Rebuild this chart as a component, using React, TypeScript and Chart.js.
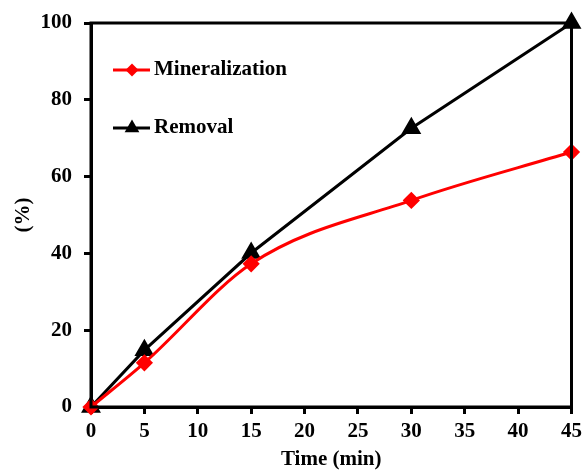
import React, { useEffect, useRef } from "react";
import { Chart, registerables } from "chart.js";

Chart.register(...registerables);

const timeMin = [0, 5, 15, 30, 45];
const mineralization = [0, 11.5, 37.3, 53.8, 66.4];
const removal = [0, 14.8, 40.1, 72.6, 100];
const xTicks = [0, 5, 10, 15, 20, 25, 30, 35, 40, 45];
const yTicks = [0, 20, 40, 60, 80, 100];
const seriesNames = ["Mineralization", "Removal"];

const FONT = "'Liberation Serif', 'Times New Roman', serif";

function drawMarker(ctx: CanvasRenderingContext2D, style: string, x: number, y: number, r: number) {
  ctx.beginPath();
  if (style === "rectRot") {
    ctx.moveTo(x, y - r);
    ctx.lineTo(x + r, y);
    ctx.lineTo(x, y + r);
    ctx.lineTo(x - r, y);
  } else {
    ctx.moveTo(x, y - r);
    ctx.lineTo(x + r * 0.866, y + r * 0.5);
    ctx.lineTo(x - r * 0.866, y + r * 0.5);
  }
  ctx.closePath();
  ctx.fill();
}

const framePlugin = {
  id: "frameLegend",
  afterDraw(chart: any) {
    const { ctx, chartArea } = chart;
    ctx.save();
    ctx.strokeStyle = "#000";
    ctx.lineWidth = 3;
    ctx.strokeRect(chartArea.left, chartArea.top, chartArea.right - chartArea.left, chartArea.bottom - chartArea.top);
    const items = [
      { label: seriesNames[0], color: "#ff0000", style: "rectRot", r: 6.5, y: 70 },
      { label: seriesNames[1], color: "#000000", style: "triangle", r: 8.5, y: 128 },
    ];
    items.forEach((it) => {
      const x0 = chartArea.left + 22;
      const x1 = x0 + 37;
      ctx.strokeStyle = it.color;
      ctx.lineWidth = 3;
      ctx.beginPath();
      ctx.moveTo(x0, it.y);
      ctx.lineTo(x1, it.y);
      ctx.stroke();
      ctx.fillStyle = it.color;
      drawMarker(ctx, it.style, 132, it.y, it.r);
      ctx.fillStyle = "#000";
      ctx.font = `bold 21px ${FONT}`;
      ctx.textBaseline = "middle";
      ctx.textAlign = "left";
      ctx.fillText(it.label, 154, it.y);
    });
    ctx.restore();
  },
};

export default function App() {
  const ref = useRef<HTMLCanvasElement>(null);
  useEffect(() => {
    document.body.style.margin = "0";
    const chart = new Chart(ref.current!, {
      type: "line",
      data: {
        datasets: [
          {
            label: seriesNames[0],
            data: timeMin.map((t, i) => ({ x: t, y: mineralization[i] })),
            borderColor: "#ff0000",
            backgroundColor: "#ff0000",
            borderWidth: 3,
            pointStyle: "rectRot",
            pointRadius: 6.5,
            cubicInterpolationMode: "monotone",
            clip: false as any,
          },
          {
            label: seriesNames[1],
            data: timeMin.map((t, i) => ({ x: t, y: removal[i] })),
            borderColor: "#000000",
            backgroundColor: "#000000",
            borderWidth: 3,
            pointStyle: "triangle",
            pointRadius: 8.5,
            tension: 0,
            clip: false as any,
          },
        ],
      },
      options: {
        animation: false,
        responsive: false,
        layout: { padding: { top: 23, right: 11, left: 0, bottom: 0 } },
        plugins: { legend: { display: false }, tooltip: { enabled: false } },
        scales: {
          x: {
            type: "linear",
            min: 0,
            max: 45,
            afterBuildTicks: (s: any) => {
              s.ticks = xTicks.map((v) => ({ value: v }));
            },
            afterFit: (s: any) => {
              s.height = 65;
              s.paddingLeft = 0;
              s.paddingRight = 0;
            },
            grid: { drawOnChartArea: false, drawTicks: true, tickLength: 7, color: "#000", lineWidth: 3 },
            border: { display: true, color: "#000", width: 3 },
            ticks: { color: "#000", font: { family: FONT, size: 21, weight: "bold" }, padding: 5, maxRotation: 0 },
            title: { display: true, text: "Time (min)", color: "#000", font: { family: FONT, size: 21, weight: "bold" }, padding: { top: 0, bottom: 0 } },
          },
          y: {
            min: 0,
            max: 100,
            afterBuildTicks: (s: any) => {
              s.ticks = yTicks.map((v) => ({ value: v }));
            },
            afterFit: (s: any) => {
              s.width = 91;
              s.paddingTop = 0;
              s.paddingBottom = 0;
            },
            grid: { drawOnChartArea: false, drawTicks: true, tickLength: 7, color: "#000", lineWidth: 3 },
            border: { display: true, color: "#000", width: 3 },
            ticks: { color: "#000", font: { family: FONT, size: 21, weight: "bold" }, padding: 12 },
            title: { display: true, text: "(%)", color: "#000", font: { family: FONT, size: 21, weight: "bold" }, padding: { top: 11, bottom: 11 } },
          },
        },
      } as any,
      plugins: [framePlugin],
    });
    return () => chart.destroy();
  }, []);
  return <canvas ref={ref} width={583} height={472} style={{ display: "block" }} />;
}
